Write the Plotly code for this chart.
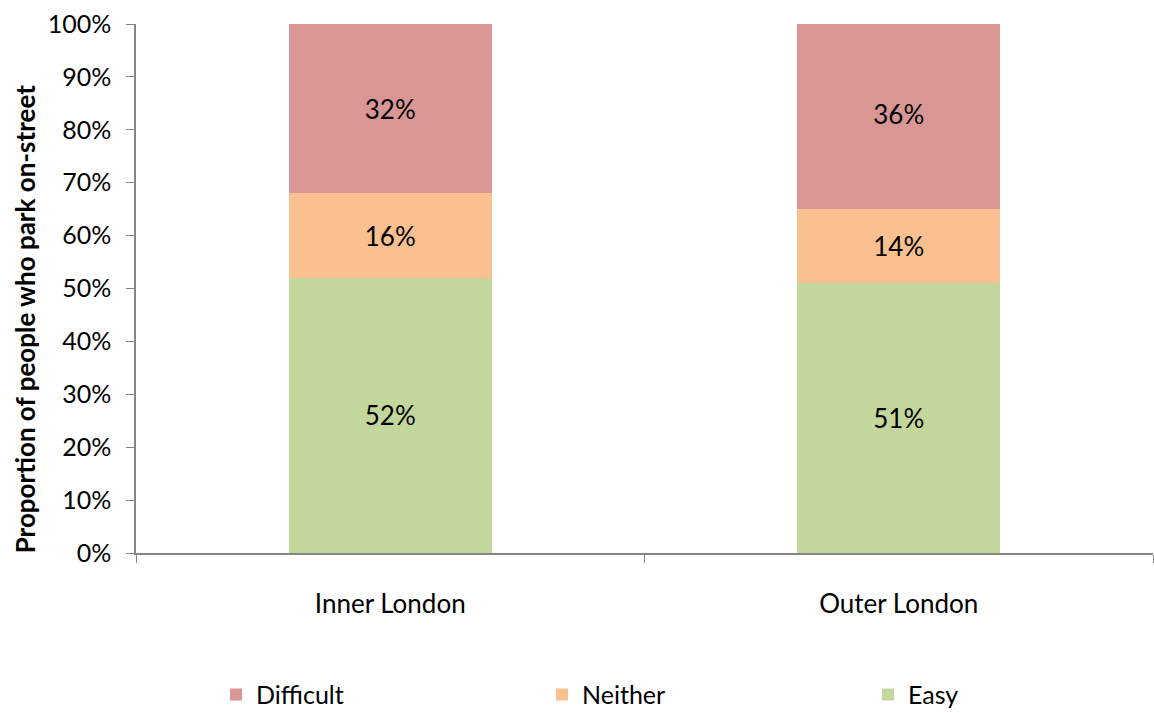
import plotly.graph_objects as go

# Share of on-street parkers by ease of finding a space
areas = ["Inner London", "Outer London"]
easy = [0.52, 0.51]
neither = [0.16, 0.14]
difficult = [0.32, 0.36]

series = [
    ("Easy", easy, "#C3D69B"),
    ("Neither", neither, "#FAC090"),
    ("Difficult", difficult, "#D99694"),
]

FONT = "Lato"
AXIS_GREY = "#868686"

fig = go.Figure()
for name, vals, colour in series:
    fig.add_trace(go.Bar(
        x=areas, y=vals, name=name,
        marker=dict(color=colour, line=dict(width=0)),
        texttemplate="%{y:.0%}", textposition="inside",
        insidetextanchor="middle",
        textfont=dict(family=FONT, size=26, color="black"),
        constraintext="none",
        width=0.4,
    ))

fig.update_layout(
    barmode="stack",
    width=1154, height=713,
    margin=dict(l=136, r=1, t=24, b=160, autoexpand=False),
    plot_bgcolor="white", paper_bgcolor="white",
    font=dict(family=FONT, size=26, color="black"),
    showlegend=True,
    legend=dict(
        orientation="h", traceorder="reversed",
        x=0.0787, xanchor="left", y=-0.268, yanchor="middle",
        entrywidth=281, entrywidthmode="pixels",
        font=dict(family=FONT, size=25, color="black"),
    ),
)
# Rotated y-axis caption, set slightly below the plot's vertical centre
fig.add_annotation(
    text="<b>Proportion of people who park on-street</b>",
    xref="paper", yref="paper", x=-0.109, y=0.442,
    xanchor="center", yanchor="middle", textangle=-90, showarrow=False,
    font=dict(family=FONT, size=26, color="black"),
)
fig.update_xaxes(
    range=[-0.5, 1.5],
    showline=True, linecolor=AXIS_GREY, linewidth=1.5,
    ticks="outside", tickson="boundaries", ticklen=8, tickcolor=AXIS_GREY,
    ticklabelstandoff=27, showgrid=False,
    tickfont=dict(family=FONT, size=26),
)
fig.update_yaxes(
    range=[0, 1], tickformat=".0%", dtick=0.1,
    showline=True, linecolor=AXIS_GREY, linewidth=1.5,
    ticks="outside", ticklen=8, tickcolor=AXIS_GREY,
    ticklabelstandoff=10, showgrid=False, zeroline=False,
    tickfont=dict(family=FONT, size=25),
)

fig.write_html("out.html")
